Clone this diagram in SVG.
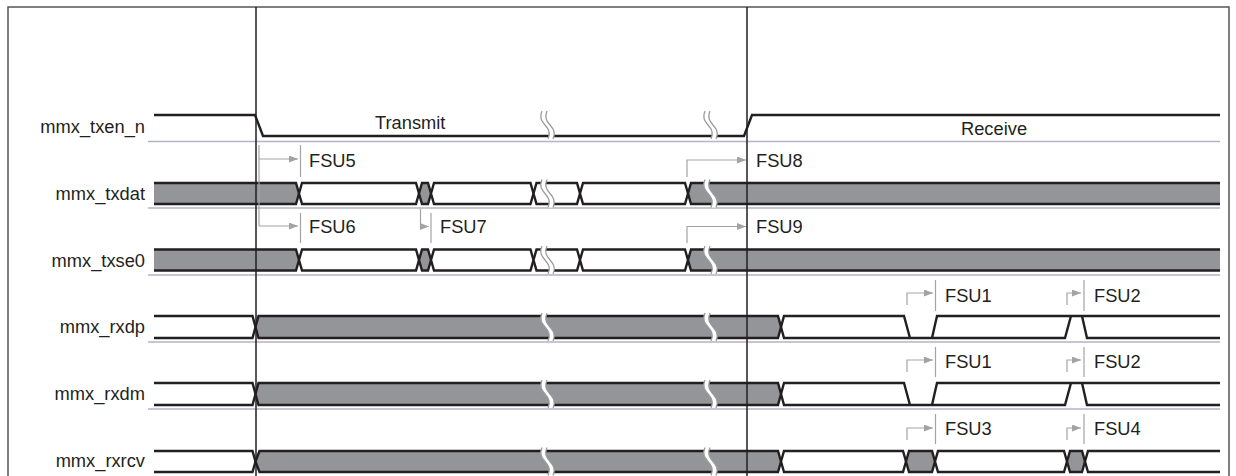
<svg xmlns="http://www.w3.org/2000/svg" xmlns:xlink="http://www.w3.org/1999/xlink" width="1236" height="476" viewBox="0 0 1236 476">
<style>
.lbl{font-family:"Liberation Sans",Arial,sans-serif;font-size:18.3px;fill:#231f20}
.lab{text-anchor:end}
.w{stroke:#231f20;stroke-width:2.4;stroke-linejoin:miter;fill:none}
.wf{stroke:#231f20;stroke-width:2.4;stroke-linejoin:miter;fill:#fff}
.gf{stroke:#231f20;stroke-width:2.4;stroke-linejoin:miter;fill:#939598}
.sep{stroke:#b4b4c4;stroke-width:1.3;fill:none}
.vl{stroke:#231f20;stroke-width:1.5;fill:none}
.arr{stroke:#a3a3a3;stroke-width:1.2;fill:none}
.tick{stroke:#a3a3a3;stroke-width:1.2;fill:none}
</style>
<defs>
<marker id="ah" markerWidth="9" markerHeight="7" refX="9" refY="3.5" orient="auto" markerUnits="userSpaceOnUse">
<path d="M0,0 L9,3.5 L0,7 Z" fill="#a3a3a3"/>
</marker>
<g id="brk">
<path d="M-5,-14 C-11,0 7,0 1,14 L6,14 C12,0 -6,0 0,-14 Z" fill="#fff"/>
<path d="M-5,-14 C-11,0 7,0 1,14 M0,-14 C-6,0 12,0 6,14" fill="none" stroke="#9a9a9a" stroke-width="1.2"/>
</g>
</defs>
<rect x="0" y="0" width="1236" height="476" fill="#fff"/>
<path d="M8,476 V7 H1229 V476" fill="none" stroke="#555" stroke-width="1.5"/>

<g id="separators">
<path class="sep" d="M148,141.5 H1220 M148,208 H1220 M148,275 H1220 M148,342 H1220 M148,409 H1220"/>
</g>

<g id="sig_txen_n">
<text class="lbl lab" x="145" y="133">mmx_txen_n</text>
<path class="w" d="M154,115 H255 L263,136 H744 L752,115 H1220"/>
<use href="#brk" x="547" y="125"/>
<use href="#brk" x="710" y="125"/>
<text class="lbl" x="375" y="129">Transmit</text>
<text class="lbl" x="961" y="135">Receive</text>
</g>

<g id="sig_txdat">
<text class="lbl lab" x="145" y="200">mmx_txdat</text>
<path class="gf" d="M154,183 H296 L299,193.5 L296,204 H154"/>
<path class="wf" d="M299,193.5 L302,183 H416 L419,193.5 L416,204 H302 Z"/>
<path class="gf" d="M419,193.5 L422,183 H428 L431,193.5 L428,204 H422 Z"/>
<path class="wf" d="M431,193.5 L434,183 H530.5 L533.5,193.5 L530.5,204 H434 Z"/>
<path class="wf" d="M533.5,193.5 L536.5,183 H577 L580,193.5 L577,204 H536.5 Z"/>
<path class="wf" d="M580,193.5 L583,183 H685 L688,193.5 L685,204 H583 Z"/>
<path class="gf" d="M1220,183 H691 L688,193.5 L691,204 H1220"/>
<use href="#brk" x="547" y="193.5"/>
<use href="#brk" x="710" y="193.5"/>
</g>

<g id="sig_txse0">
<text class="lbl lab" x="145" y="266.5">mmx_txse0</text>
<path class="gf" d="M154,249.5 H296 L299,260 L296,270.5 H154"/>
<path class="wf" d="M299,260 L302,249.5 H416 L419,260 L416,270.5 H302 Z"/>
<path class="gf" d="M419,260 L422,249.5 H428 L431,260 L428,270.5 H422 Z"/>
<path class="wf" d="M431,260 L434,249.5 H530.5 L533.5,260 L530.5,270.5 H434 Z"/>
<path class="wf" d="M533.5,260 L536.5,249.5 H577 L580,260 L577,270.5 H536.5 Z"/>
<path class="wf" d="M580,260 L583,249.5 H685 L688,260 L685,270.5 H583 Z"/>
<path class="gf" d="M1220,249.5 H691 L688,260 L691,270.5 H1220"/>
<use href="#brk" x="547" y="260"/>
<use href="#brk" x="710" y="260"/>
</g>

<g id="sig_rxdp">
<text class="lbl lab" x="145" y="333">mmx_rxdp</text>
<path class="w" d="M154,316 H252.5 L255.5,327 L252.5,338 H154"/>
<path class="gf" d="M255.5,327 L258.5,316 H778 L781,327 L778,338 H258.5 Z"/>
<path class="w" d="M1220,316 H937 L932,338 H910 L904,316 H784 L781,327 L784,338 H1065 L1071,316 H1082 L1087,338 H1220"/>
<use href="#brk" x="547" y="327"/>
<use href="#brk" x="710" y="327"/>
</g>

<g id="sig_rxdm">
<text class="lbl lab" x="145" y="400">mmx_rxdm</text>
<path class="w" d="M154,383 H252.5 L255.5,394 L252.5,405 H154"/>
<path class="gf" d="M255.5,394 L258.5,383 H778 L781,394 L778,405 H258.5 Z"/>
<path class="w" d="M1220,383 H937 L932,405 H910 L904,383 H784 L781,394 L784,405 H1065 L1071,383 H1082 L1087,405 H1220"/>
<use href="#brk" x="547" y="394"/>
<use href="#brk" x="710" y="394"/>
</g>

<g id="sig_rxrcv">
<text class="lbl lab" x="145" y="467">mmx_rxrcv</text>
<path class="w" d="M154,451 H252.5 L255.5,461.5 L252.5,472 H154"/>
<path class="gf" d="M255.5,461.5 L259.5,451 H778 L781,461.5 L778,472 H259.5 Z"/>
<path class="wf" d="M781,461.5 L784,451 H903 L906,461.5 L903,472 H784 Z"/>
<path class="gf" d="M906,461.5 L909,451 H932 L935,461.5 L932,472 H909 Z"/>
<path class="wf" d="M935,461.5 L938,451 H1064 L1067,461.5 L1064,472 H938 Z"/>
<path class="gf" d="M1067,461.5 L1070,451 H1082 L1085,461.5 L1082,472 H1070 Z"/>
<path class="wf" d="M1220,451 H1088 L1085,461.5 L1088,472 H1220"/>
<use href="#brk" x="547" y="461.5"/>
<use href="#brk" x="710" y="461.5"/>
</g>

<g id="markers">
<path class="vl" d="M256,7 V476 M747,7 V476"/>
</g>

<g id="connectors">
<path class="arr" d="M259,145 V226"/>
<path class="arr" d="M259,159 H298" marker-end="url(#ah)"/>
<path class="arr" d="M259,226 H298" marker-end="url(#ah)"/>
<path class="tick" d="M300.5,145 V177 M300.5,213 V243"/>
<path class="arr" d="M420.5,209 V226.5 H429" marker-end="url(#ah)"/>
<path class="tick" d="M431,213 V243"/>
<path class="arr" d="M687,177 V160 H746" marker-end="url(#ah)"/>
<path class="arr" d="M687,243 V226.5 H746" marker-end="url(#ah)"/>
<path class="arr" d="M907,305 V293 H933" marker-end="url(#ah)"/>
<path class="arr" d="M1067,305 V293 H1081" marker-end="url(#ah)"/>
<path class="tick" d="M935.5,280 V311 M1084,280 V311"/>
<path class="arr" d="M907,372 V360 H933" marker-end="url(#ah)"/>
<path class="arr" d="M1067,372 V360 H1081" marker-end="url(#ah)"/>
<path class="tick" d="M935.5,347 V377 M1084,347 V377"/>
<path class="arr" d="M907,440 V428 H933" marker-end="url(#ah)"/>
<path class="arr" d="M1067,440 V428 H1081" marker-end="url(#ah)"/>
<path class="tick" d="M935.5,414 V444 M1084,414 V444"/>
</g>

<g id="fsu_labels">
<text class="lbl" x="309" y="166.5">FSU5</text>
<text class="lbl" x="309" y="233">FSU6</text>
<text class="lbl" x="440" y="233">FSU7</text>
<text class="lbl" x="756" y="166.5">FSU8</text>
<text class="lbl" x="756" y="233">FSU9</text>
<text class="lbl" x="945" y="301.5">FSU1</text>
<text class="lbl" x="1094" y="301.5">FSU2</text>
<text class="lbl" x="945" y="368">FSU1</text>
<text class="lbl" x="1094" y="368">FSU2</text>
<text class="lbl" x="945" y="435">FSU3</text>
<text class="lbl" x="1094" y="435">FSU4</text>
</g>
</svg>
